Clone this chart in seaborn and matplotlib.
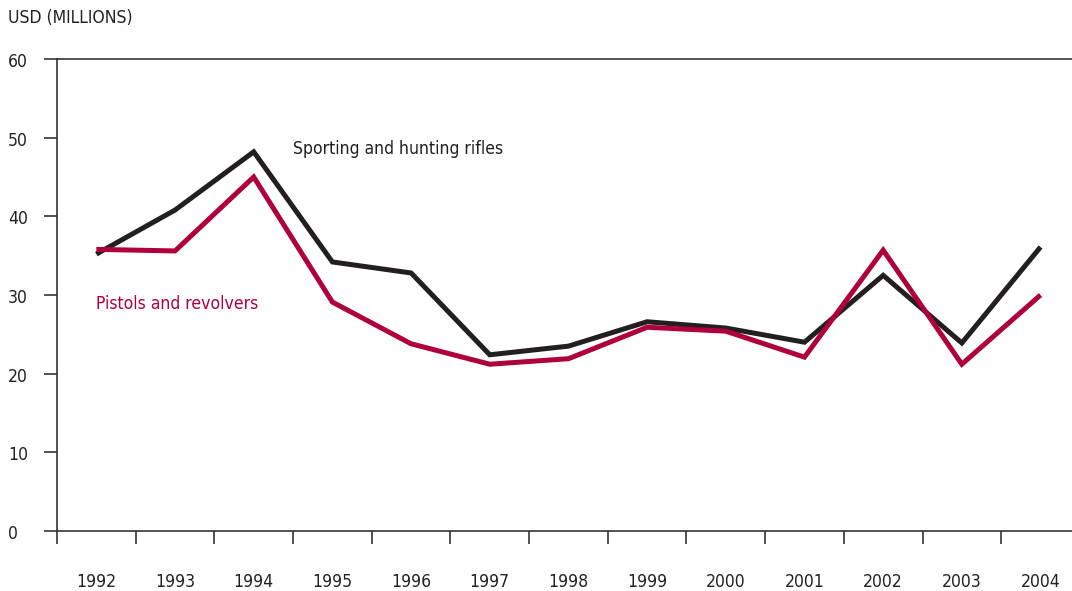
import matplotlib
matplotlib.use("Agg")
import matplotlib.pyplot as plt
import matplotlib.transforms as mtransforms
import seaborn as sns
import pandas as pd
import numpy as np

# Data
years = [1992, 1993, 1994, 1995, 1996, 1997, 1998, 1999, 2000, 2001, 2002, 2003, 2004]
rifles = [35.2, 40.8, 48.2, 34.2, 32.8, 22.4, 23.5, 26.6, 25.8, 24.0, 32.5, 23.9, 36.1]
pistols = [35.8, 35.6, 45.0, 29.1, 23.8, 21.2, 21.9, 25.9, 25.4, 22.1, 35.7, 21.2, 30.0]
series_names = ["Sporting and hunting rifles", "Pistols and revolvers"]
y_ticks = [0, 10, 20, 30, 40, 50, 60]

df = pd.DataFrame({
    "year": years * 2,
    "value": rifles + pistols,
    "series": [series_names[0]] * len(years) + [series_names[1]] * len(years),
})

sns.set_style("white")
plt.rcParams["font.family"] = ["DejaVu Sans"]
plt.rcParams["font.stretch"] = "condensed"

dark = "#231f20"
red = "#b0003a"
palette = {series_names[0]: dark, series_names[1]: red}
fs = 12.6

fig = plt.figure(figsize=(10.72, 5.91), dpi=100)
ax = fig.add_axes([57 / 1072, 1 - 531 / 591, 1 - 57 / 1072, (531 - 59) / 591])

sns.lineplot(data=df, x="year", y="value", hue="series", palette=palette,
             linewidth=3.6, legend=False, ax=ax)
for ln in ax.lines:
    ln.set_solid_joinstyle("miter")
    ln.set_solid_capstyle("butt")

ax.set_xlim(1991.5, 2004.4)
ax.set_ylim(0, 60)
ax.set_xlabel("")
ax.set_ylabel("")

for side in ["left", "bottom", "top"]:
    ax.spines[side].set_visible(True)
    ax.spines[side].set_color("#333333")
    ax.spines[side].set_linewidth(1.2)
ax.spines["right"].set_visible(False)

# x axis: labels at year centres, tick marks at the category boundaries
ax.set_xticks(years)
ax.set_xticklabels([str(y) for y in years], fontsize=fs, color="#222222")
ax.set_xticks([y - 0.5 for y in years], minor=True)
ax.tick_params(axis="x", which="major", length=0, pad=30)
ax.tick_params(axis="x", which="minor", length=9.5, width=1.2, color="#333333",
               direction="out", bottom=True)

# y axis: tick marks out, labels left aligned near the figure edge
ax.set_yticks(y_ticks)
ax.set_yticklabels([])
ax.tick_params(axis="y", which="major", length=9.5, width=1.2, color="#333333",
               direction="out", left=True)
trans = mtransforms.blended_transform_factory(fig.transFigure, ax.transData)
for t in y_ticks:
    ax.text(8 / 1072, t - 0.4, str(t), transform=trans, ha="left", va="center",
            fontsize=fs, color="#222222", clip_on=False)

fig.text(8 / 1072, 1 - 18 / 591, "USD (MILLIONS)", ha="left", va="center",
         fontsize=fs, color="#222222")

ax.text(1994.5, 48.6, series_names[0], ha="left", va="center",
        fontsize=fs, color=dark)
ax.text(1992, 28.8, series_names[1], ha="left", va="center",
        fontsize=fs, color=red)

fig.savefig("out.png", dpi=100)
